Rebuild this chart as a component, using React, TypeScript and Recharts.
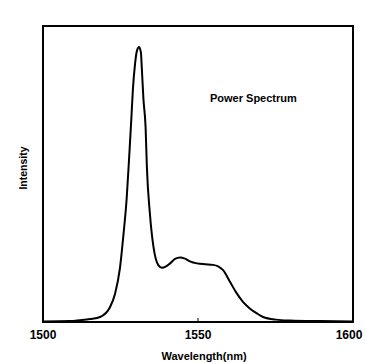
import React from 'react';
import { LineChart, Line, XAxis, YAxis, ReferenceArea, Legend } from 'recharts';

// values (intensity normalised to the frame height)
const wavelengths = [
  1500, 1508.7, 1511.9, 1515.2, 1518.4, 1521.6, 1523.2, 1524.8, 1525.9, 1527.0,
  1527.8, 1528.5, 1529.0, 1529.7, 1530.3, 1531.0, 1531.6, 1531.8, 1532.4, 1533.1,
  1533.5, 1534.5, 1535.6, 1537.2, 1538.4, 1539.7, 1541.0, 1542.6, 1544.2, 1545.8,
  1547.4, 1549.7, 1552.3, 1554.8, 1556.5, 1558.1, 1560.3, 1562.3, 1564.5, 1566.8,
  1569.0, 1571.0, 1575.2, 1579.7, 1589.4, 1600,
];
const intensity = [
  0.002, 0.003, 0.006, 0.01, 0.017, 0.05, 0.094, 0.18, 0.289, 0.419,
  0.558, 0.688, 0.786, 0.873, 0.916, 0.929, 0.909, 0.873, 0.753, 0.656,
  0.526, 0.364, 0.256, 0.192, 0.183, 0.188, 0.198, 0.213, 0.218, 0.214,
  0.205, 0.198, 0.195, 0.193, 0.188, 0.175, 0.136, 0.1, 0.068, 0.045,
  0.029, 0.017, 0.008, 0.005, 0.003, 0.002,
];
const xTicks = [1500, 1550, 1600];
const seriesName = 'Power Spectrum';

const data = wavelengths.map((w, i) => ({ wl: w, power: intensity[i] }));

const FONT = '"Liberation Sans", Arial, Helvetica, sans-serif';

const WaveTick = (props: any) => {
  const { x, y, payload } = props;
  return (
    <g>
      {payload.value === 1550 && <line x1={x} x2={x} y1={y} y2={y - 4} stroke="#000" strokeWidth={1} />}
      <text x={x} y={y + 17} textAnchor="middle" fontFamily={FONT} fontWeight="bold" fontSize={12} fill="#000">
        {payload.value}
      </text>
    </g>
  );
};

export default function App() {
  return (
    <div style={{ position: 'absolute', left: 0, top: 0, width: 365, height: 362, background: '#fff' }}>
      <LineChart width={365} height={362} data={data} margin={{ top: 14, right: 12, bottom: 0, left: 0 }}>
        <XAxis
          dataKey="wl"
          type="number"
          domain={[1500, 1600]}
          ticks={xTicks}
          height={40}
          axisLine={false}
          tickLine={false}
          tickSize={0}
          tickMargin={0}
          tick={<WaveTick />}
          label={(p: any) => {
            const vb = p.viewBox;
            return (
              <text x={vb.x + vb.width / 2 + 6} y={vb.y + 38} textAnchor="middle" fontFamily={FONT} fontWeight="bold" fontSize={11} fill="#000">
                Wavelength(nm)
              </text>
            );
          }}
        />
        <YAxis
          type="number"
          domain={[0, 1]}
          width={43}
          axisLine={false}
          tickLine={false}
          tick={false}
          label={(p: any) => {
            const vb = p.viewBox;
            const cx = 22.5;
            const cy = vb.y + vb.height / 2 - 6;
            return (
              <text x={cx} y={cy} transform={`rotate(-90 ${cx} ${cy})`} textAnchor="middle" dominantBaseline="central" fontFamily={FONT} fontWeight="bold" fontSize={10.5} fill="#000">
                Intensity
              </text>
            );
          }}
        />
        <ReferenceArea x1={1500} x2={1600} y1={0} y2={1} fill="none" stroke="#000" strokeWidth={2} />
        <Legend
          verticalAlign="top"
          wrapperStyle={{ position: 'absolute', top: 92, left: 210, width: 'auto' }}
          content={() => (
            <div style={{ fontFamily: FONT, fontWeight: 'bold', fontSize: 11, color: '#000', whiteSpace: 'nowrap' }}>{seriesName}</div>
          )}
        />
        <Line
          type="monotone"
          dataKey="power"
          name={seriesName}
          stroke="#000"
          strokeWidth={2}
          dot={false}
          isAnimationActive={false}
        />
      </LineChart>
    </div>
  );
}
